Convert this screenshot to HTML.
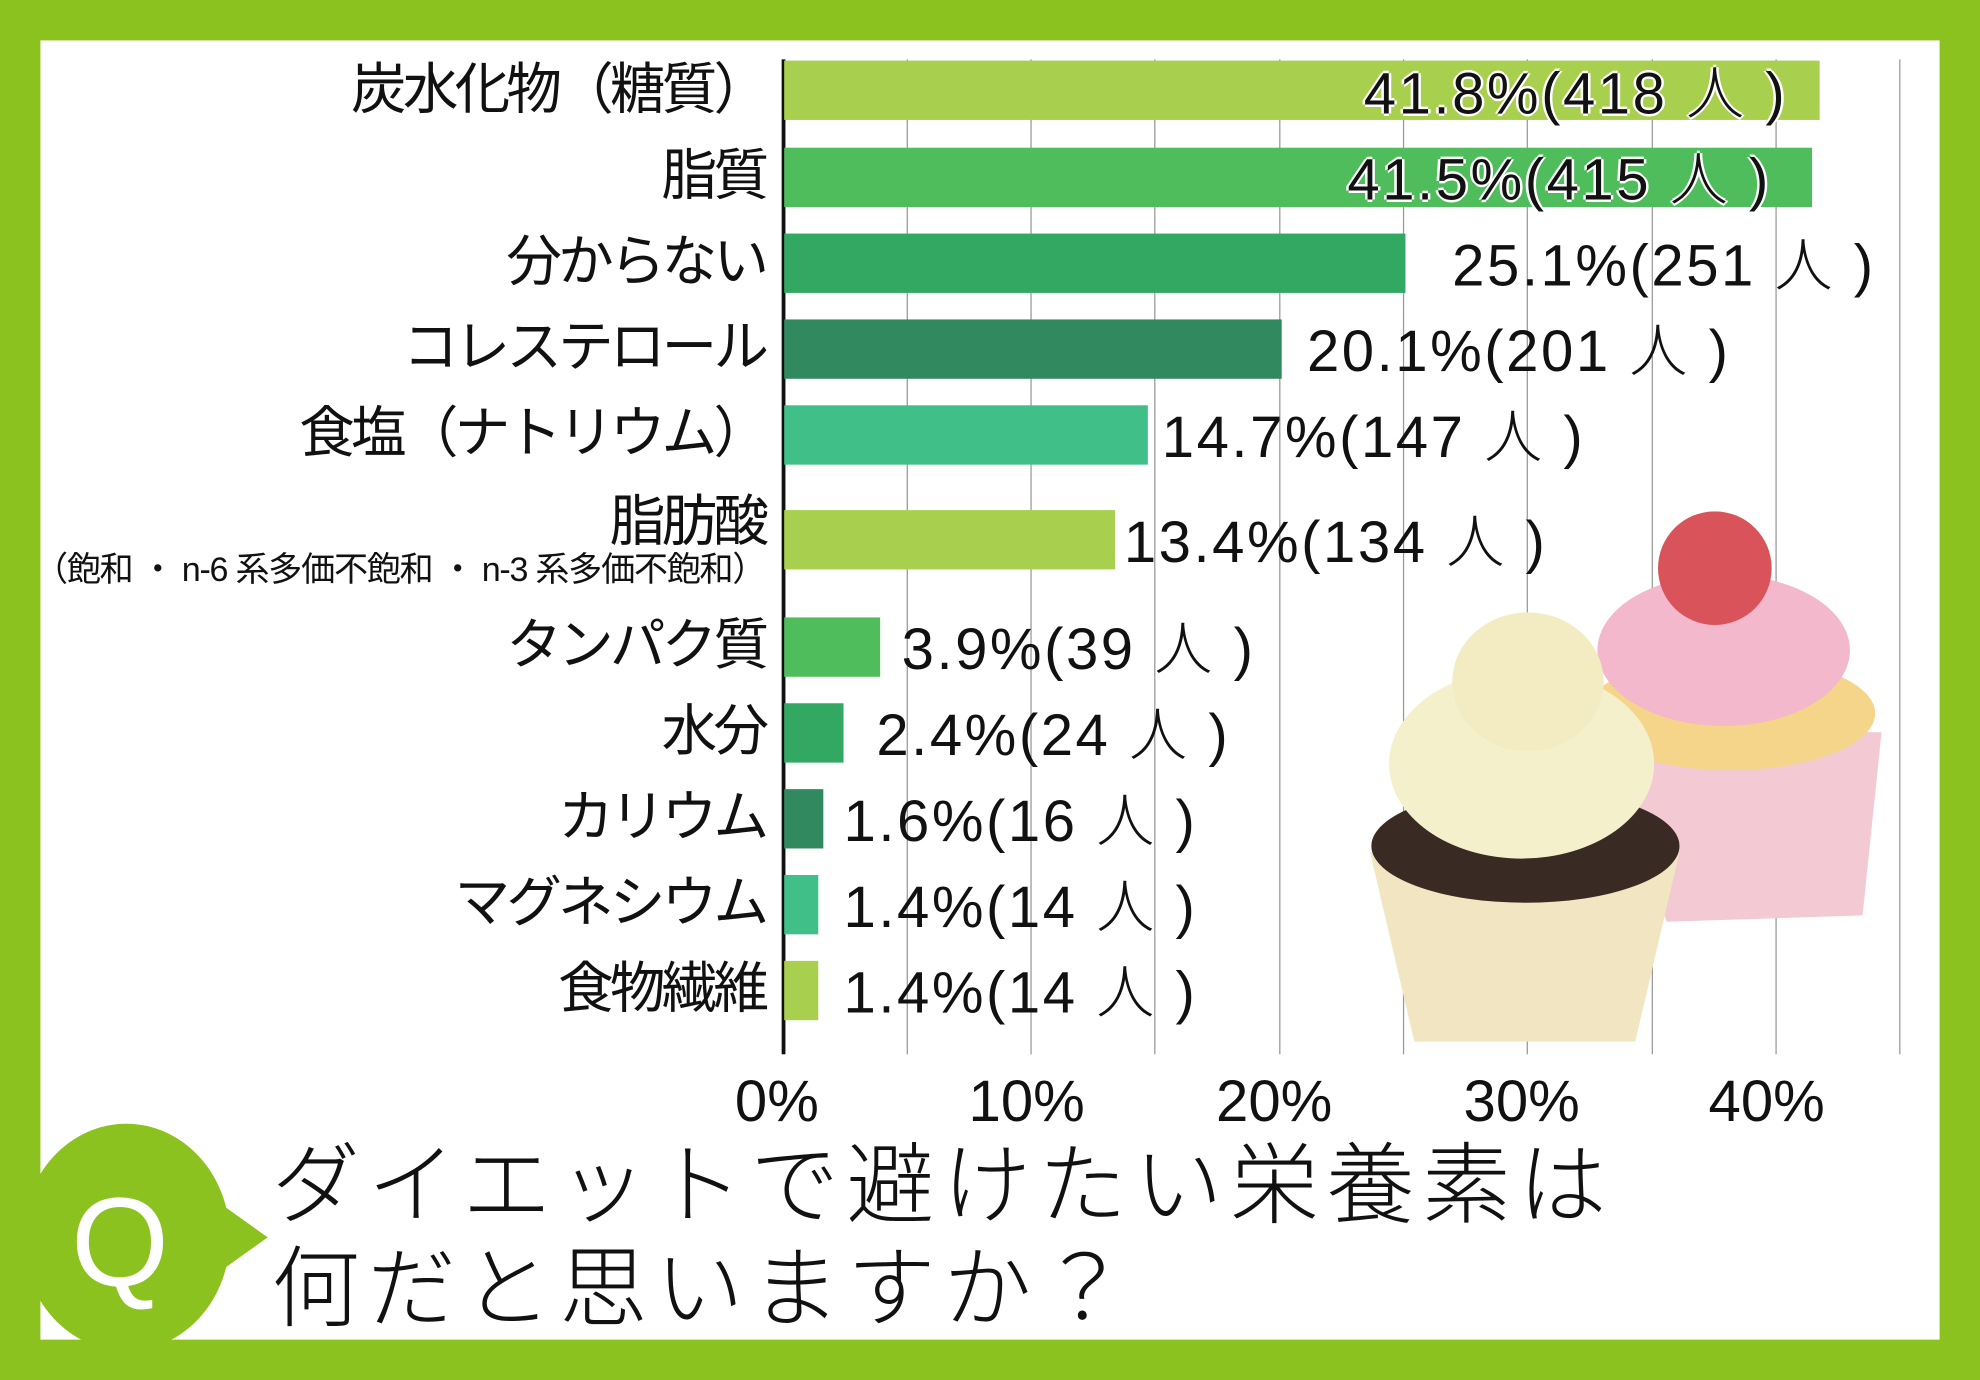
<!DOCTYPE html>
<html><head><meta charset="utf-8"><style>
html,body{margin:0;padding:0;width:1980px;height:1380px;overflow:hidden;background:#8cc21f}
#w{position:absolute;left:0;top:0;width:1568px;height:1093px;transform:scale(1.26276,1.26261);transform-origin:0 0;font-family:"Liberation Sans","Noto Sans CJK JP",sans-serif}
.in{position:absolute;left:32px;top:32px;width:1504px;height:1029px;background:#fff}
.g{position:absolute;top:47px;height:788px;width:1px;background:#999}
.bar{position:absolute;left:621px;height:47px}
.lab{position:absolute;right:962px;font-size:44px;color:#111;white-space:nowrap;line-height:1;letter-spacing:-3px}
.val{position:absolute;font-size:46px;color:#111;white-space:nowrap;line-height:1;font-weight:300;letter-spacing:2px}
.tk{position:absolute;top:845px;font-size:46px;color:#111;font-weight:300}
.ol{text-shadow:-2px 0 #fff,2px 0 #fff,0 2px #fff,0 -2px #fff}
</style></head><body><div id="w">
<div class="in"></div>
<div class="g" style="left:718px"></div><div class="g" style="left:816px"></div><div class="g" style="left:914px"></div><div class="g" style="left:1013px"></div><div class="g" style="left:1111px"></div><div class="g" style="left:1209px"></div><div class="g" style="left:1308px"></div><div class="g" style="left:1406px"></div><div class="g" style="left:1504px"></div>

<svg style="position:absolute;left:1080px;top:405px" width="420" height="430" viewBox="0 0 420 430">
<path d="M175 170 L410 175 L395 320 L240 325 Z" fill="#f3c9d4"/>
<ellipse cx="290" cy="160" rx="115" ry="45" fill="#f5d58a"/>
<ellipse cx="285" cy="110" rx="100" ry="60" fill="#f3b8cc"/>
<ellipse cx="278" cy="45" rx="45" ry="45" fill="#d9545a"/>
<path d="M5 270 L250 270 L215 420 L40 420 Z" fill="#f2e6c2"/>
<ellipse cx="128" cy="265" rx="122" ry="45" fill="#3a2a24"/>
<ellipse cx="125" cy="200" rx="105" ry="75" fill="#f5f0cc"/>
<ellipse cx="130" cy="135" rx="60" ry="55" fill="#f3ecc2"/>
</svg>

<div style="position:absolute;left:619px;top:47px;width:3px;height:788px;background:#111"></div>

<div class="bar" style="top:48px;width:820px;background:#a8d04e"></div>
<div class="bar" style="top:117px;width:814px;background:#50bd5c"></div>
<div class="bar" style="top:185px;width:492px;background:#33a862"></div>
<div class="bar" style="top:253px;width:394px;background:#318a5f"></div>
<div class="bar" style="top:321px;width:288px;background:#40bf88"></div>
<div class="bar" style="top:404px;width:262px;background:#a8d04e"></div>
<div class="bar" style="top:489px;width:76px;background:#50bd5c"></div>
<div class="bar" style="top:557px;width:47px;background:#33a862"></div>
<div class="bar" style="top:625px;width:31px;background:#318a5f"></div>
<div class="bar" style="top:693px;width:27px;background:#40bf88"></div>
<div class="bar" style="top:761px;width:27px;background:#a8d04e"></div>

<div class="lab" style="top:50px">炭水化物（糖質）</div>
<div class="lab" style="top:118px">脂質</div>
<div class="lab" style="top:186px">分からない</div>
<div class="lab" style="top:254px">コレステロール</div>
<div class="lab" style="top:322px">食塩（ナトリウム）</div>
<div class="lab" style="top:392px">脂肪酸</div>
<div class="lab" style="top:438px;font-size:27px;letter-spacing:-1px">（飽和 ・ n-6 系多価不飽和 ・ n-3 系多価不飽和）</div>
<div class="lab" style="top:490px">タンパク質</div>
<div class="lab" style="top:558px">水分</div>
<div class="lab" style="top:626px">カリウム</div>
<div class="lab" style="top:694px">マグネシウム</div>
<div class="lab" style="top:762px">食物繊維</div>

<div class="val ol" style="left:1080px;top:51px">41.8%(418 人 )</div>
<div class="val ol" style="left:1067px;top:119px">41.5%(415 人 )</div>
<div class="val" style="left:1150px;top:187px">25.1%(251 人 )</div>
<div class="val" style="left:1035px;top:255px">20.1%(201 人 )</div>
<div class="val" style="left:920px;top:323px">14.7%(147 人 )</div>
<div class="val" style="left:890px;top:406px">13.4%(134 人 )</div>
<div class="val" style="left:714px;top:491px">3.9%(39 人 )</div>
<div class="val" style="left:694px;top:559px">2.4%(24 人 )</div>
<div class="val" style="left:668px;top:627px">1.6%(16 人 )</div>
<div class="val" style="left:668px;top:695px">1.4%(14 人 )</div>
<div class="val" style="left:668px;top:763px">1.4%(14 人 )</div>

<div class="tk" style="left:582px">0%</div>
<div class="tk" style="left:767px">10%</div>
<div class="tk" style="left:963px">20%</div>
<div class="tk" style="left:1159px">30%</div>
<div class="tk" style="left:1353px">40%</div>

<svg style="position:absolute;left:0;top:885px" width="230" height="200">
<ellipse cx="100" cy="95" rx="82" ry="90" fill="#8cc21f"/>
<path d="M170 65 L212 95 L170 125 Z" fill="#8cc21f"/>
<text x="95" y="133" font-size="100" fill="#fff" text-anchor="middle" font-family="Liberation Sans,sans-serif" font-weight="300">Q</text>
</svg>
<div style="position:absolute;left:215px;top:898px;font-size:70px;line-height:82px;color:#111;font-weight:300;letter-spacing:6px">ダイエットで避けたい栄養素は<br>何だと思いますか？</div>
</div></body></html>
